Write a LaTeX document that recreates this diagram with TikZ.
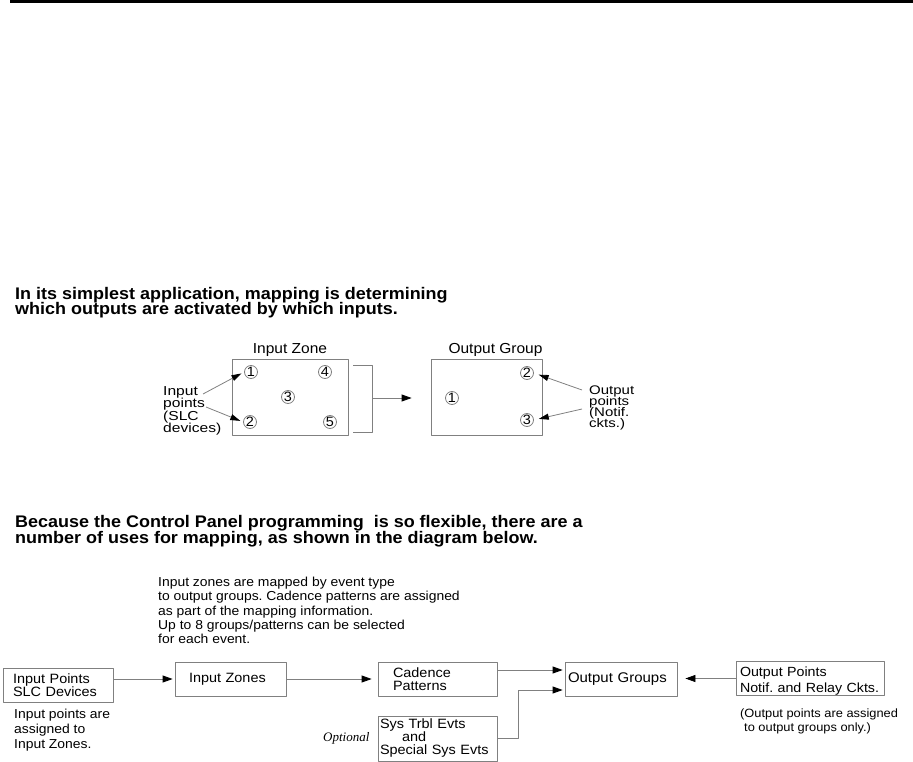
\documentclass[tikz,border=0pt]{standalone}
\usepackage{fontspec}
\setmainfont{Liberation Sans}[FakeStretch=1.07]
\newfontfamily\sidefont{Liberation Sans}[FakeStretch=1.2]
\newfontfamily\notefont{Liberation Serif}
\usetikzlibrary{arrows.meta,positioning}
\definecolor{linegray}{gray}{0.5}
\newcommand{\fsz}[2]{\fontsize{#1}{#2}\selectfont}
\lineskiplimit=-100pt
\frenchspacing

\tikzset{
	wire/.style={draw=linegray,line width=.8pt},
	flow/.style={wire,-{Triangle[length=10pt,width=7pt,color=black,fill=black]}},
	thinflow/.style={wire,-{Triangle[length=10pt,width=6pt,color=black,fill=black]}},
	zonebox/.style={wire,inner sep=0pt,minimum height=76pt},
	pointnode/.style={circle,wire,minimum size=13pt,inner sep=0pt,font=\fsz{13.5}{13}},
	flowbox/.style={wire,align=left,inner ysep=0pt,minimum height=34pt,font=\fsz{13.5}{13}},
	textblock/.style={inner sep=0pt,align=left,anchor=north west},
	zonelabel/.style={inner sep=0pt,font=\fsz{14.5}{15}},
}

\begin{document}
\begin{tikzpicture}[x=1pt,y=-1pt,line join=round]
	\useasboundingbox (0,0) rectangle (913,762);
	\draw[line width=3pt] (10,1.5) -- (913,1.5);

	\node[textblock,font=\fsz{16.8}{15}\bfseries] (head1) at (15,287)
		{In its simplest application, mapping is determining\\which outputs are activated by which inputs.};

	% simple mapping
	\node[zonebox,minimum width=116pt] (izone) at (290,397) {};
	\node[zonebox,minimum width=111pt] (ogroup) at (486.5,397) {};
	\node[zonelabel,above=2pt of izone] (izlbl) {Input Zone};
	\node[zonelabel,above=2pt of ogroup,xshift=9pt] (oglbl) {Output Group};
	\foreach \n/\x/\y in {1/251/372, 4/325/372, 3/288/397, 2/250/422, 5/330/422}
		\node[pointnode] (iz\n) at (\x,\y) {\n};
	\foreach \n/\x/\y in {1/452/398, 2/527/373, 3/527/420}
		\node[pointnode] (og\n) at (\x,\y) {\n};
	\draw[wire] (353,365) -| (372,432) -- (353,432);
	\coordinate (brkmid) at (372,398);
	\draw[flow,shorten >=19pt] (brkmid) -- (ogroup.west |- brkmid);

	\node[textblock,font=\sidefont\fsz{13}{12.5}] (inlbl) at (163,386) {Input\\points\\(SLC\\devices)};
	\coordinate (inA) at (203,394);
	\coordinate (inB) at (206,407);
	\draw[thinflow,shorten >=3pt] (inA) -- (iz1.west);
	\draw[thinflow,shorten >=3pt] (inB) -- (iz2.west);
	\node[textblock,font=\sidefont\fsz{12.5}{11}] (outlbl) at (589,386) {Output\\points\\(Notif.\\ckts.)};
	\coordinate (outA) at (582,390);
	\coordinate (outB) at (582,409);
	\draw[thinflow,shorten >=5pt] (outA) -- (og2.east);
	\draw[thinflow,shorten >=5pt] (outB) -- (og3.east);

	\node[textblock,font=\fsz{16.8}{16}\bfseries] (head2) at (15,515)
		{Because the Control Panel programming~ is so flexible, there are a\\number of uses for mapping, as shown in the diagram below.};

	% uses for mapping
	\node[textblock,font=\fsz{13}{14.3}] (mapnote) at (158,577)
		{Input zones are mapped by event type\\to output groups. Cadence patterns are assigned\\as part of the mapping information.\\Up to 8 groups/patterns can be selected\\for each event.};
	\node[flowbox,text width=90pt,inner xsep=10pt] (inpoints) at (58,685) {Input Points\\SLC Devices};
	\node[flowbox,text width=83pt,inner xsep=14pt] (izones) at (230.5,679) {Input Zones};
	\node[flowbox,text width=89pt,inner xsep=15pt] (cadence) at (437.5,679) {Cadence\\Patterns};
	\node[flowbox,text width=106pt,inner xsep=3pt,font=\fsz{14}{14}] (ogroups) at (621,679) {Output Groups};
	\node[flowbox,text width=140pt,inner xsep=4pt,font=\fsz{13.3}{16}] (opoints) at (810,678.5)
		{\rule{0pt}{15.3pt}Output Points\\\mbox{Notif. and Relay Ckts.}};
	\node[flowbox,text width=115pt,inner xsep=2pt,minimum height=45pt] (sysevts) at (437.5,738.5)
		{Sys Trbl Evts\\\hspace*{22pt}and\\Special Sys Evts};
	\node[font=\notefont\itshape\fsz{13}{13},inner sep=0pt,left=8pt of sysevts] (optnote) {Optional};

	\draw[flow,shorten >=2pt] (inpoints.east |- izones.west) -- (izones.west);
	\draw[flow,shorten >=6pt] (izones.east) -- (cadence.west);
	\draw[flow,shorten >=2pt] ([yshift=9pt]cadence.east) -- ([yshift=9pt]ogroups.west);
	\coordinate (sysjoin) at (518,690);
	\draw[flow,shorten >=2pt] (sysevts.east) -| (sysjoin) -- ([yshift=-11pt]ogroups.west);
	\draw[flow,shorten >=8pt] (opoints.west) -- (ogroups.east |- opoints.west);

	\node[textblock,font=\fsz{13}{15}] (inpnote) at (14,709) {Input points are\\assigned to\\Input Zones.};
	\node[textblock,font=\fsz{12}{14}] (outnote) at (740,708.5)
		{(Output points are assigned\\\hspace*{4pt}to output groups only.)};
\end{tikzpicture}
\end{document}
